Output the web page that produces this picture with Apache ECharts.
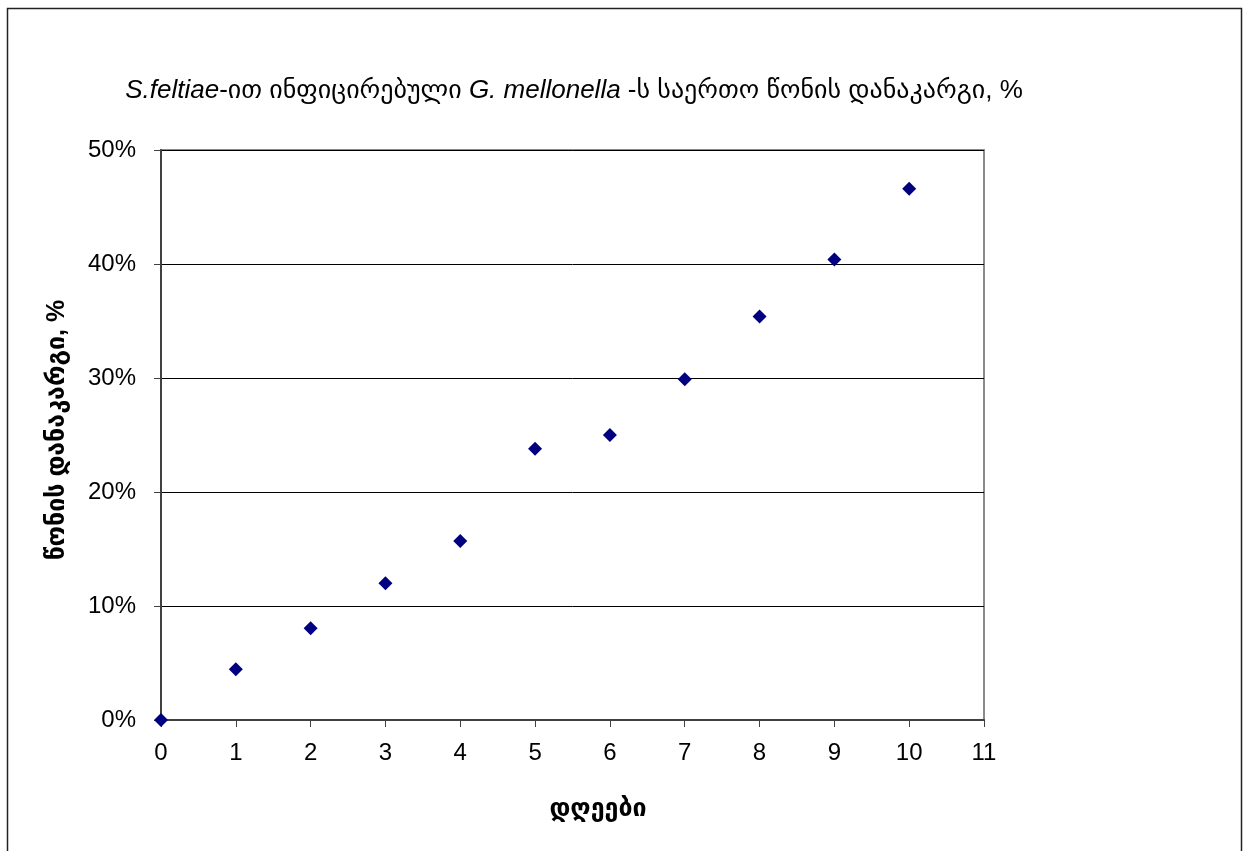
<!DOCTYPE html>
<html>
<head>
<meta charset="utf-8">
<script src="https://cdn.jsdelivr.net/npm/echarts@6/dist/echarts.min.js"></script>
<style>
html,body{margin:0;padding:0;background:#fff;}
#c{width:1243px;height:851px;}
</style>
</head>
<body>
<div id="c"></div>
<script>
const days = [0, 1, 2, 3, 4, 5, 6, 7, 8, 9, 10];
const weightLoss = [0.0, 4.45, 8.05, 12.0, 15.7, 23.8, 25.0, 29.9, 35.4, 40.4, 46.6];
const xTicks = [0, 1, 2, 3, 4, 5, 6, 7, 8, 9, 10, 11];
const yTicks = [0, 10, 20, 30, 40, 50];
const titleParts = ['S.feltiae', '-ით ინფიცირებული ', 'G. mellonella', ' -ს საერთო წონის დანაკარგი, %'];
const xName = 'დღეები';
const yName = 'წონის დანაკარგი, %';

const FONT = '"Liberation Sans", Arial, "DejaVu Sans", sans-serif';
const chart = echarts.init(document.getElementById('c'), null, {renderer: 'canvas'});
chart.setOption({
  backgroundColor: '#fff',
  animation: false,
  title: {
    text: '{i|' + titleParts[0] + '}{n|' + titleParts[1] + '}{i|' + titleParts[2] + '}{n|' + titleParts[3] + '}',
    left: 569, textAlign: 'center', top: 73,
    textStyle: {
      fontWeight: 'normal',
      rich: {
        i: {fontFamily: FONT, fontStyle: 'italic', fontWeight: 'normal', fontSize: 26, color: '#000'},
        n: {fontFamily: FONT, fontWeight: 'normal', fontSize: 26, color: '#000'}
      }
    }
  },
  graphic: [
    {type: 'rect', shape: {x: 7.5, y: 8.5, width: 1234, height: 860}, style: {fill: 'none', stroke: '#222', lineWidth: 1.5}, silent: true},
    {type: 'text', x: 598, y: 809, style: {text: xName, font: 'bold 25px ' + FONT, fill: '#000', textAlign: 'center', textVerticalAlign: 'middle'}},
    {type: 'text', x: 57, y: 430, rotation: Math.PI / 2, style: {text: yName, font: 'bold 25px ' + FONT, fill: '#000', textAlign: 'center', textVerticalAlign: 'middle'}}
  ],
  grid: {left: 161, right: 259, top: 150, bottom: 131, show: true, borderColor: '#8a8a8a', borderWidth: 2},
  xAxis: {
    type: 'value', min: 0, max: 11, interval: 1,
    axisLine: {show: true, onZero: false, lineStyle: {color: '#404040', width: 2}},
    axisTick: {show: true, inside: false, length: 7, lineStyle: {color: '#404040'}},
    axisLabel: {fontFamily: FONT, fontSize: 24, color: '#000', margin: 21,
      formatter: v => xTicks.includes(v) ? String(v) : ''},
    splitLine: {show: false}
  },
  yAxis: {
    type: 'value', min: 0, max: 50, interval: 10,
    axisLine: {show: true, lineStyle: {color: '#404040', width: 2}},
    axisTick: {show: true, inside: false, length: 7, lineStyle: {color: '#404040'}},
    axisLabel: {fontFamily: FONT, fontSize: 24, color: '#000', margin: 25,
      formatter: v => yTicks.includes(v) ? v + '%' : ''},
    splitLine: {show: true, lineStyle: {color: '#000', width: 1}}
  },
  series: [{
    type: 'scatter',
    data: days.map((d, i) => [d, weightLoss[i]]),
    symbol: 'diamond', symbolSize: 14,
    itemStyle: {color: '#000080', opacity: 1},
    clip: false
  }]
});
</script>
</body>
</html>
